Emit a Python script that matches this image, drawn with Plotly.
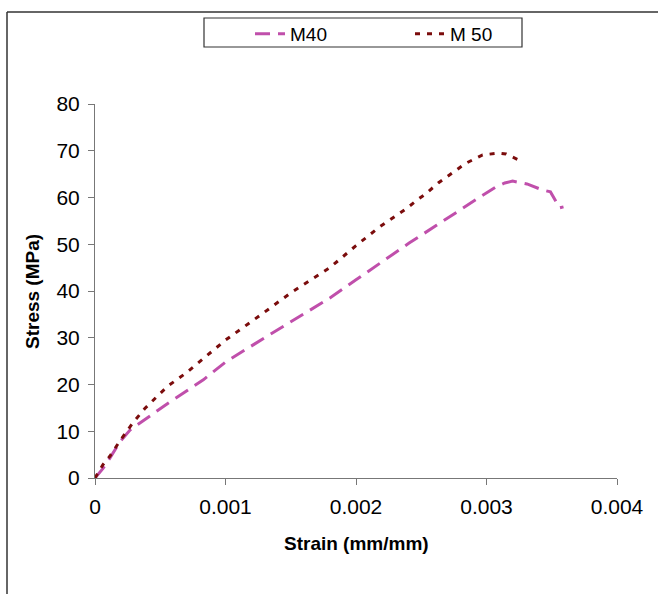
import plotly.graph_objects as go

# M40 series
m40_strain = [0, 0.00006, 0.000115, 0.00019, 0.00027, 0.0004, 0.00056, 0.00083, 0.001, 0.0013,
              0.0015, 0.0018, 0.002, 0.00224, 0.00241, 0.00262, 0.0027, 0.00285, 0.00295, 0.00307,
              0.00314, 0.0032, 0.00331, 0.00343, 0.00349, 0.00354, 0.00356, 0.00359]
m40_stress = [0, 2.0, 4.3, 7.7, 10.3, 12.8, 16.0, 21.0, 24.8, 30.0,
              33.4, 38.5, 42.4, 47.1, 50.3, 54.1, 55.6, 58.4, 60.1, 62.2,
              63.1, 63.5, 62.9, 61.6, 61.2, 58.8, 57.8, 58.0]

# M 50 series
m50_strain = [0, 0.00006, 0.000115, 0.00019, 0.00029, 0.00038, 0.00047, 0.00056, 0.0007, 0.001,
              0.0013, 0.0015, 0.0018, 0.002, 0.00218, 0.00228, 0.00238, 0.00248, 0.00253, 0.00263,
              0.00274, 0.00284, 0.00297, 0.00309, 0.00315, 0.00328]
m50_stress = [0, 2.8, 4.7, 7.9, 11.8, 14.8, 17.3, 19.7, 22.5, 29.5,
              35.5, 39.6, 45.0, 49.7, 53.7, 55.6, 57.5, 59.7, 60.7, 63.1,
              65.2, 67.3, 69.1, 69.5, 69.3, 67.6]

x_ticks = [0, 0.001, 0.002, 0.003, 0.004]
x_ticklabels = ["0", "0.001", "0.002", "0.003", "0.004"]
y_ticks = [0, 10, 20, 30, 40, 50, 60, 70, 80]

W, H = 658, 594
L, R, T, B = 95, 41, 104, 116
pw, ph = W - L - R, H - T - B

def px(x):
    return (x - L) / pw

def py(y):
    return (H - B - y) / ph

fig = go.Figure()
fig.add_trace(go.Scatter(x=m40_strain, y=m40_stress, mode="lines", name="M40",
                         line=dict(color="#C04FAB", width=3, dash="15px,8px")))
fig.add_trace(go.Scatter(x=m50_strain, y=m50_stress, mode="lines", name="M 50",
                         line=dict(color="#7B0C0C", width=3, dash="5px,7px")))

font = "Liberation Sans, Arial, sans-serif"
fig.update_layout(
    width=W, height=H,
    margin=dict(l=L, r=R, t=T, b=B),
    paper_bgcolor="white", plot_bgcolor="white",
    font=dict(family=font, color="black"),
    showlegend=True,
    legend=dict(orientation="h", x=px(250), xanchor="left", y=py(15), yanchor="top",
                borderwidth=0, font=dict(size=19),
                entrywidth=115, entrywidthmode="pixels", bgcolor="rgba(0,0,0,0)"),
    xaxis=dict(range=[0, 0.004], tickvals=x_ticks, ticktext=x_ticklabels,
               showgrid=False, zeroline=False, showline=True, linecolor="#777", linewidth=1,
               ticks="outside", ticklen=6, tickcolor="#777", tickfont=dict(size=21),
               ticklabelstandoff=4),
    yaxis=dict(range=[0, 80], tickvals=y_ticks, showgrid=False, zeroline=False,
               showline=True, linecolor="#777", linewidth=1,
               ticks="outside", ticklen=6, tickcolor="#777", tickfont=dict(size=21),
               ticklabelstandoff=4),
    annotations=[
        dict(text="<b>Strain (mm/mm)</b>", x=px(356), y=py(543), xref="paper", yref="paper",
             showarrow=False, font=dict(size=19), xanchor="center", yanchor="middle"),
        dict(text="<b>Stress (MPa)</b>", x=px(32), y=py(292), xref="paper", yref="paper",
             showarrow=False, font=dict(size=19), textangle=-90, xanchor="center", yanchor="middle"),
    ],
    shapes=[
        dict(type="line", xref="paper", yref="paper", x0=px(7), y0=py(12), x1=px(660), y1=py(12),
             line=dict(color="#333", width=1.5)),
        dict(type="line", xref="paper", yref="paper", x0=px(7), y0=py(12), x1=px(7), y1=py(600),
             line=dict(color="#333", width=1.5)),
        dict(type="rect", xref="paper", yref="paper", x0=px(204), y0=py(18), x1=px(522), y1=py(47),
             line=dict(color="#333", width=1.2), fillcolor="rgba(0,0,0,0)"),
    ],
)

fig.write_html("out.html")
